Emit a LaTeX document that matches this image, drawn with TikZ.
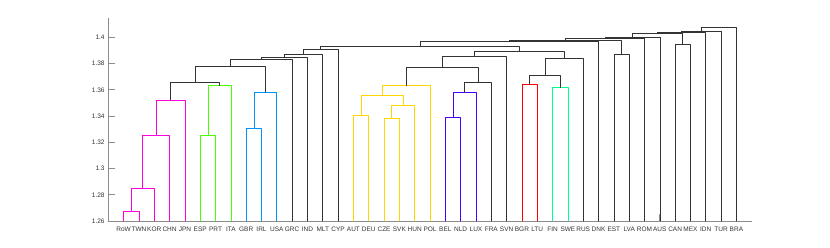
\documentclass[tikz,border=0pt]{standalone}
\usepackage{fontspec}
\setmainfont{Liberation Sans}
\usetikzlibrary{calc}
\definecolor{grpred}{rgb}{1,0,0}
\definecolor{grpyellow}{rgb}{1,0.84,0}
\definecolor{grpgreen}{rgb}{0.286,1,0}
\definecolor{grpmint}{rgb}{0,1,0.571}
\definecolor{grpblue}{rgb}{0,0.571,1}
\definecolor{grppurple}{rgb}{0.286,0,1}
\definecolor{grpmagenta}{rgb}{1,0,0.857}
\definecolor{linkgray}{rgb}{0.2,0.2,0.2}
\begin{document}
\begin{tikzpicture}[x=15.32pt,y=13.12pt,line cap=round,line join=round]
  \tikzset{link/.style={draw=#1,line width=0.65pt},
    axisline/.style={draw=black!45,line width=0.7pt},
    leaflabel/.style={font=\fontsize{6.5}{8}\selectfont,text=black!80,inner sep=0pt,
      anchor=base,text height=5pt},
    ticklabel/.style={font=\fontsize{6.5}{8}\selectfont,text=black!80,inner sep=0pt,
      anchor=east,text height=4.7pt,text depth=0pt}}
  \path[use as bounding box,fill=white] (-108.3pt,-27pt) rectangle (721.7pt,221pt);
  % axes, ticks point inwards; y is (distance - 1.26) * 100
  \draw[axisline] (0,15.45) |- (42,0);
  \foreach \v/\t in {0/1.26,2/1.28,4/1.3,6/1.32,8/1.34,10/1.36,12/1.38,14/1.4} {
    \draw[axisline] (0,\v) -- ++(6.4pt,0);
    \node[ticklabel] (ytick\v) at ([xshift=-3.5pt]0,\v) {\t};
  }
  % leaves in dendrogram order
  \foreach \name [count=\i] in {RoW,TWN,KOR,CHN,JPN,ESP,PRT,ITA,GBR,IRL,USA,GRC,IND,MLT,CYP,
      AUT,DEU,CZE,SVK,HUN,POL,BEL,NLD,LUX,FRA,SVN,BGR,LTU,FIN,SWE,RUS,DNK,EST,LVA,ROM,AUS,
      CAN,MEX,IDN,TUR,BRA} {
    \coordinate (\name) at (\i,0);
    \draw[axisline] (\name) -- ++(0,6.4pt);
    \node[leaflabel] (lbl\name) at ([yshift=-10.5pt]\name) {\name};
  }
  % merges, bottom up: child/child/height/name/colour
  \foreach \a/\b/\h/\n/\c in {RoW/TWN/0.71/m1/grpmagenta, m1/KOR/2.49/m2/grpmagenta,
      m2/CHN/6.50/m3/grpmagenta, m3/JPN/9.20/m4/grpmagenta,
      ESP/PRT/6.50/g1/grpgreen, g1/ITA/10.31/g2/grpgreen,
      GBR/IRL/7.07/b1/grpblue, b1/USA/9.80/b2/grpblue,
      m4/g2/10.57/k1/linkgray, k1/b2/11.76/k2/linkgray, k2/GRC/12.32/k3/linkgray,
      k3/IND/12.47/k4/linkgray, k4/MLT/12.70/k5/linkgray, k5/CYP/13.06/k6/linkgray,
      AUT/DEU/8.03/y1/grpyellow, CZE/SVK/7.83/y2/grpyellow, y2/HUN/8.79/y3/grpyellow,
      y1/y3/9.55/y4/grpyellow, y4/POL/10.31/y5/grpyellow,
      BEL/NLD/7.90/p1/grppurple, p1/LUX/9.78/p2/grppurple,
      p2/FRA/10.57/k7/linkgray, y5/k7/11.69/k8/linkgray, k8/SVN/12.53/k9/linkgray,
      BGR/LTU/10.42/r1/grpred, FIN/SWE/10.16/c1/grpmint,
      r1/c1/11.10/k10/linkgray, k10/RUS/12.40/k11/linkgray, k9/k11/12.90/k12/linkgray,
      k6/k12/13.30/k13/linkgray, EST/LVA/12.70/e1/linkgray, CAN/MEX/13.47/e2/linkgray,
      k13/DNK/13.67/k14/linkgray, k14/e1/13.74/k15/linkgray, k15/ROM/13.91/k16/linkgray,
      k16/AUS/14.02/k17/linkgray, k17/e2/14.29/k18/linkgray, k18/IDN/14.37/k19/linkgray,
      k19/TUR/14.44/k20/linkgray, k20/BRA/14.76/k21/linkgray} {
    \coordinate (mid) at ($(\a)!0.5!(\b)$);
    \coordinate (\n) at (mid |- 0,\h);
    \draw[link=\c] (\a) |- (\n) -| (\b);
  }
\end{tikzpicture}
\end{document}
